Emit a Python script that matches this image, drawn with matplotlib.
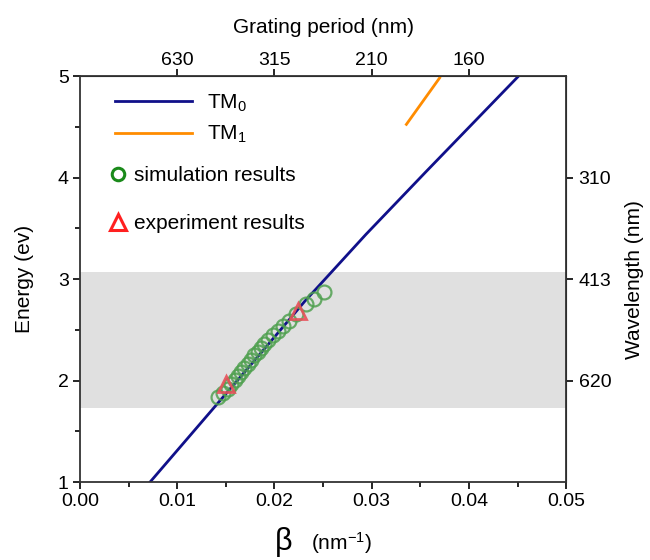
import numpy as np
import matplotlib
matplotlib.use('Agg')
import matplotlib.pyplot as plt
from matplotlib.lines import Line2D

plt.rcParams['font.family'] = ['Liberation Sans', 'DejaVu Sans']
plt.rcParams['mathtext.default'] = 'regular'

# TM0 dispersion (beta in nm^-1, energy in eV)
tm0_beta = [0.0072, 0.0133, 0.0185, 0.0231, 0.0294, 0.0356, 0.0451]
tm0_energy = [1.0, 1.68, 2.26, 2.78, 3.44, 4.06, 5.0]
# TM1 branch
tm1_beta = [0.03357, 0.03699]
tm1_energy = [4.525, 4.983]

# simulation results
sim_beta = [0.02513, 0.02410, 0.02325, 0.02222, 0.02154, 0.02085, 0.02034, 0.01983,
            0.01932, 0.01897, 0.01863, 0.01829, 0.01795, 0.01761, 0.01726, 0.01692,
            0.01658, 0.01624, 0.01590, 0.01556, 0.01521, 0.01470, 0.01419]
sim_energy = [2.871, 2.805, 2.756, 2.658, 2.592, 2.543, 2.494, 2.445,
              2.396, 2.363, 2.324, 2.281, 2.248, 2.205, 2.166, 2.127,
              2.084, 2.042, 2.002, 1.963, 1.921, 1.878, 1.838]
# experiment results
exp_beta = [0.01504, 0.02239]
exp_energy = [1.970, 2.690]

# visible band (eV)
band = [1.73, 3.07]

top_ticks = [0.01, 0.02, 0.03, 0.04]
top_labels = ['630', '315', '210', '160']
right_ticks = [4, 3, 2]
right_labels = ['310', '413', '620']

fig = plt.figure(figsize=(6.5, 5.6), dpi=100)
ax = fig.add_axes([0.123, 0.139, 0.748, 0.725])

ax.axhspan(band[0], band[1], color='#e0e0e0', lw=0, zorder=0)
ax.plot(tm0_beta, tm0_energy, color='#10108a', lw=2, zorder=2)
ax.plot(tm1_beta, tm1_energy, color='#ff8c00', lw=2, zorder=2)
ax.plot(sim_beta, sim_energy, 'o', mfc='none', mec='#4fa04f', mew=1.6, ms=10, alpha=0.85, zorder=3)
ax.plot(exp_beta, exp_energy, '^', mfc='none', mec='#e8505a', mew=2, ms=11, alpha=0.9, zorder=4)

ax.set_xlim(0, 0.05)
ax.set_ylim(1, 5)
ax.set_xticks([0, 0.01, 0.02, 0.03, 0.04, 0.05])
ax.set_xticklabels(['0.00', '0.01', '0.02', '0.03', '0.04', '0.05'])
ax.set_xticks([0.005, 0.015, 0.025, 0.035, 0.045], minor=True)
ax.set_yticks([1, 2, 3, 4, 5])
ax.set_yticks([1.5, 2.5, 3.5, 4.5], minor=True)
ax.tick_params(which='major', length=5, width=1.2, labelsize=14, direction='out', pad=3)
ax.tick_params(which='minor', length=3.5, width=1.2, direction='out')
for s in ax.spines.values():
    s.set_linewidth(1.3)
    s.set_color('#333333')

ax.set_ylabel('Energy (ev)', fontsize=15, labelpad=17)
# beta label with smaller units part
fig.text(284 / 650, 0.018, 'β', fontsize=22, ha='center', va='baseline')
fig.text(311 / 650, 0.018, '(nm$^{-1}$)', fontsize=15, ha='left', va='baseline')

top = ax.secondary_xaxis('top')
top.set_xticks(top_ticks)
top.set_xticklabels(top_labels)
top.tick_params(length=5, width=1.2, labelsize=14, direction='out', pad=0)
top.set_xlabel('Grating period (nm)', fontsize=15, labelpad=14)

right = ax.secondary_yaxis('right')
right.set_yticks(right_ticks)
right.set_yticklabels(right_labels)
right.tick_params(length=5, width=1.2, labelsize=14, direction='out', pad=4)
right.set_ylabel('Wavelength (nm)', fontsize=15, labelpad=10)

line_handles = [Line2D([], [], color='#10108a', lw=2), Line2D([], [], color='#ff8c00', lw=2)]
leg1 = ax.legend(line_handles, ['TM$_0$', 'TM$_1$'], loc='upper left',
                 bbox_to_anchor=(0.072, 0.96), frameon=False, fontsize=15,
                 handlelength=3.7, handletextpad=0.7, labelspacing=0.5,
                 borderaxespad=0, borderpad=0)
ax.add_artist(leg1)
mark_handles = [Line2D([], [], ls='none', marker='o', mfc='none', mec='#1a8a1a', mew=2.2, ms=9),
                Line2D([], [], ls='none', marker='^', mfc='none', mec='#ff2020', mew=2.2, ms=11)]
ax.legend(mark_handles, ['simulation results', 'experiment results'], loc='upper left',
          bbox_to_anchor=(0.056, 0.778), frameon=False, fontsize=15,
          handlelength=1.0, handletextpad=0.3, labelspacing=1.4,
          borderaxespad=0, borderpad=0)

fig.savefig('out.png', dpi=100)
